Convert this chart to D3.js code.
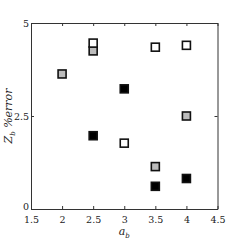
<!DOCTYPE html>
<html>
<head>
<meta charset="utf-8">
<script src="https://cdn.jsdelivr.net/npm/d3@7"></script>
<style>
  body { margin: 0; background: #fff; }
  text { font-family: "DejaVu Serif", "Liberation Serif", serif; fill: #222; }
</style>
</head>
<body>
<script>
// data
const xTicks = [1.5, 2, 2.5, 3, 3.5, 4, 4.5];
const yTicks = [0, 2.5, 5];
const blackX = [2.5, 3, 3.5, 4];
const blackY = [1.97, 3.23, 0.61, 0.82];
const grayX = [2, 2.5, 3.5, 4];
const grayY = [3.63, 4.25, 1.14, 2.5];
const whiteX = [2.5, 3, 3.5, 4];
const whiteY = [4.46, 1.77, 4.35, 4.40];

const w = 241, h = 241;
const m = {left: 31, right: 23.5, top: 23, bottom: 32};

const svg = d3.select("body").append("svg")
    .attr("width", w).attr("height", h);

const x = d3.scaleLinear().domain([1.5, 4.5]).range([m.left, w - m.right]);
const y = d3.scaleLinear().domain([0, 5]).range([h - m.bottom, m.top]);

const fmt = d => String(d);

// box axes with inward ticks
svg.append("g").attr("transform", "translate(0," + y(0) + ")")
    .call(d3.axisBottom(x).tickValues(xTicks).tickFormat(fmt).tickSizeInner(-3).tickSizeOuter(0).tickPadding(7))
    .call(g => g.select(".domain").attr("stroke", "#333"))
    .call(g => g.selectAll("text").attr("font-size", 9.5));
svg.append("g").attr("transform", "translate(0," + y(5) + ")")
    .call(d3.axisTop(x).tickValues(xTicks).tickFormat("").tickSizeInner(-3).tickSizeOuter(0))
    .call(g => g.select(".domain").attr("stroke", "#333"));
svg.append("g").attr("transform", "translate(" + x(1.5) + ",0)")
    .call(d3.axisLeft(y).tickValues(yTicks).tickFormat(fmt).tickSizeInner(-3).tickSizeOuter(0).tickPadding(2))
    .call(g => g.select(".domain").attr("stroke", "#333"))
    .call(g => g.selectAll("text").attr("font-size", 9.5)
      .attr("dy", d => d === 0 ? "0.1em" : "0.32em"));
svg.append("g").attr("transform", "translate(" + x(4.5) + ",0)")
    .call(d3.axisRight(y).tickValues(yTicks).tickFormat("").tickSizeInner(-3).tickSizeOuter(0))
    .call(g => g.select(".domain").attr("stroke", "#333"));
svg.selectAll(".tick line").attr("stroke", "#333");

// markers
const s = 8;
function squares(xs, ys, fill) {
  svg.append("g").selectAll("rect").data(xs.map((d, i) => [d, ys[i]]))
    .join("rect")
    .attr("x", d => x(d[0]) - s / 2)
    .attr("y", d => y(d[1]) - s / 2)
    .attr("width", s).attr("height", s)
    .attr("fill", fill)
    .attr("stroke", "#111").attr("stroke-width", 1.6);
}
squares(grayX, grayY, "#bcbcbc");
squares(whiteX, whiteY, "#fff");
squares(blackX, blackY, "#000");

// labels
const xl = svg.append("text").attr("x", x(3)).attr("y", 235)
    .attr("text-anchor", "middle").attr("font-size", 11).attr("font-style", "italic");
xl.append("tspan").text("a");
xl.append("tspan").attr("font-size", 7).attr("dy", 2.5).text("b");

const yl = svg.append("text")
    .attr("transform", "translate(12," + y(2.5) + ") rotate(-90)")
    .attr("text-anchor", "middle").attr("font-size", 11).attr("font-style", "italic");
yl.append("tspan").text("Z");
yl.append("tspan").attr("font-size", 7).attr("dy", 2.5).text("b");
yl.append("tspan").attr("dy", -2.5).text(" %error");
</script>
</body>
</html>
